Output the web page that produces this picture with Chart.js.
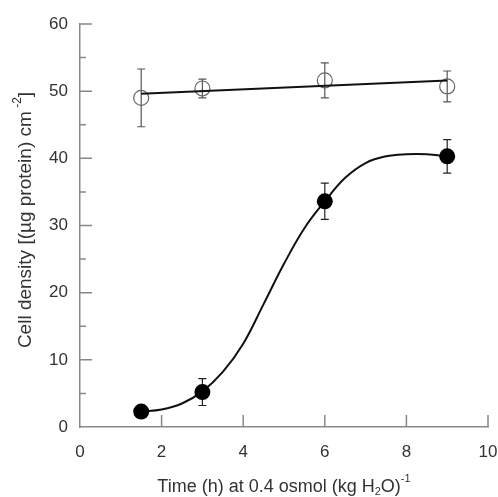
<!DOCTYPE html>
<html>
<head>
<meta charset="utf-8">
<script src="https://cdn.jsdelivr.net/npm/chart.js@4.4.0/dist/chart.umd.min.js"></script>
<style>
  html, body { margin: 0; padding: 0; background: #fff; }
  #wrap { width: 498px; height: 497px; }
</style>
</head>
<body>
<div id="wrap"><canvas id="chart" width="498" height="497"></canvas></div>
<script>
// measured points (mean and error) at each time
const timeH = [1.5, 3, 6, 9];
const openMean = [49.0, 50.4, 51.6, 50.7];
const openErr = [4.3, 1.4, 2.6, 2.3];
const filledMean = [2.3, 5.2, 33.6, 40.3];
const filledErr = [0, 2.0, 2.7, 2.5];

// fitted lines
const openFitX = [1.5, 9];
const openFitY = [49.6, 51.6];
const curveX = [1.5, 2, 2.5, 3, 3.5, 4, 4.5, 5, 5.5, 6, 6.5, 7, 7.5, 8, 8.5, 9];
const curveY = [2.3, 2.6, 3.5, 5.3, 8.2, 12.4, 18.3, 24.3, 29.6, 33.6, 37.1, 39.3, 40.3, 40.6, 40.6, 40.3];

const xTicks = [0, 2, 4, 6, 8, 10];
const yTicks = [0, 10, 20, 30, 40, 50, 60];
const yMinorTicks = [5, 15, 25, 35, 45, 55];

// axis titles as [text, 'n' | 'sub' | 'sup'] pieces
const xTitle = [['Time (h) at 0.4 osmol (kg H', 'n'], ['2', 'sub'], ['O)', 'n'], ['-1', 'sup']];
const yTitle = [['Cell density [(\u00B5g protein) cm', 'n'], [' -2', 'sup'], [']', 'n']];

const toPts = (xs, ys) => xs.map((x, i) => ({ x: x, y: ys[i] }));
const axisColor = '#888';
const textColor = '#333';
const fontFamily = '"Liberation Sans", Arial, sans-serif';

function drawRich(ctx, parts, cx, cy, size) {
  const small = Math.round(size * 0.62);
  const fontOf = k => (k === 'n' ? size : small) + 'px ' + fontFamily;
  let total = 0;
  parts.forEach(p => { ctx.font = fontOf(p[1]); total += ctx.measureText(p[0]).width; });
  let x = cx - total / 2;
  ctx.textAlign = 'left';
  ctx.textBaseline = 'middle';
  parts.forEach(p => {
    ctx.font = fontOf(p[1]);
    let dy = 0;
    if (p[1] === 'sub') dy = size * 0.3;
    if (p[1] === 'sup') dy = -size * 0.42;
    ctx.fillText(p[0], x, cy + dy);
    x += ctx.measureText(p[0]).width;
  });
}

const errorBars = {
  id: 'errorBars',
  beforeDatasetsDraw(chart) {
    const ctx = chart.ctx;
    const xs = chart.scales.x, ys = chart.scales.y;
    const sets = [
      { mean: openMean, err: openErr, color: '#555' },
      { mean: filledMean, err: filledErr, color: '#222' }
    ];
    ctx.save();
    ctx.lineWidth = 1.2;
    sets.forEach(s => {
      ctx.strokeStyle = s.color;
      timeH.forEach((t, i) => {
        if (!s.err[i]) return;
        const px = xs.getPixelForValue(t);
        const top = ys.getPixelForValue(s.mean[i] + s.err[i]);
        const bot = ys.getPixelForValue(s.mean[i] - s.err[i]);
        ctx.beginPath();
        ctx.moveTo(px, top); ctx.lineTo(px, bot);
        ctx.moveTo(px - 4, top); ctx.lineTo(px + 4, top);
        ctx.moveTo(px - 4, bot); ctx.lineTo(px + 4, bot);
        ctx.stroke();
      });
    });
    ctx.restore();
  }
};

const axisDecor = {
  id: 'axisDecor',
  afterDraw(chart) {
    const ctx = chart.ctx;
    const xs = chart.scales.x, ys = chart.scales.y;
    const area = chart.chartArea;
    ctx.save();
    ctx.strokeStyle = axisColor;
    ctx.lineWidth = 1.5;
    ctx.beginPath();
    xTicks.forEach(v => {
      if (v === 0) return;
      const px = xs.getPixelForValue(v);
      ctx.moveTo(px, area.bottom); ctx.lineTo(px, area.bottom - 12);
    });
    yTicks.forEach(v => {
      if (v === 0) return;
      const py = ys.getPixelForValue(v);
      ctx.moveTo(area.left, py); ctx.lineTo(area.left + 12, py);
    });
    yMinorTicks.forEach(v => {
      const py = ys.getPixelForValue(v);
      ctx.moveTo(area.left, py); ctx.lineTo(area.left + 6, py);
    });
    ctx.stroke();

    ctx.fillStyle = textColor;
    drawRich(ctx, xTitle, (area.left + area.right) / 2, 487, 18);
    ctx.translate(26, 220);
    ctx.rotate(-Math.PI / 2);
    drawRich(ctx, yTitle, 0, 0, 19);
    ctx.restore();
  }
};

new Chart(document.getElementById('chart'), {
  type: 'scatter',
  data: {
    datasets: [
      {
        data: toPts(timeH, openMean),
        pointStyle: 'circle',
        pointRadius: 7.5,
        pointBackgroundColor: 'rgba(0,0,0,0)',
        pointBorderColor: '#666',
        pointBorderWidth: 1.2,
        order: 2
      },
      {
        data: toPts(timeH, filledMean),
        pointRadius: 8,
        pointBackgroundColor: '#000',
        pointBorderColor: '#000',
        pointBorderWidth: 0,
        order: 0
      },
      {
        data: toPts(openFitX, openFitY),
        showLine: true,
        borderColor: '#111',
        borderWidth: 2,
        pointRadius: 0,
        order: 1
      },
      {
        data: toPts(curveX, curveY),
        showLine: true,
        borderColor: '#111',
        borderWidth: 2,
        pointRadius: 0,
        tension: 0.4,
        order: 1
      }
    ]
  },
  options: {
    responsive: false,
    animation: false,
    layout: { padding: { left: 0, top: 24, right: 10, bottom: 0 } },
    plugins: { legend: { display: false }, tooltip: { enabled: false } },
    scales: {
      x: {
        type: 'linear',
        min: 0, max: 10,
        afterFit: s => { s.height = 70; s.paddingRight = 0; s.paddingLeft = 0; },
        afterBuildTicks: s => { s.ticks = xTicks.map(v => ({ value: v })); },
        grid: { display: false, drawTicks: false },
        border: { display: true, color: axisColor, width: 1.5 },
        ticks: { color: textColor, padding: 15, font: { family: fontFamily, size: 17 } }
      },
      y: {
        type: 'linear',
        min: 0, max: 60,
        afterFit: s => { s.width = 80; s.paddingTop = 0; s.paddingBottom = 0; },
        afterBuildTicks: s => { s.ticks = yTicks.map(v => ({ value: v })); },
        grid: { display: false, drawTicks: false },
        border: { display: true, color: axisColor, width: 1.5 },
        ticks: { color: textColor, padding: 12, font: { family: fontFamily, size: 17 } }
      }
    }
  },
  plugins: [errorBars, axisDecor]
});
</script>
</body>
</html>
